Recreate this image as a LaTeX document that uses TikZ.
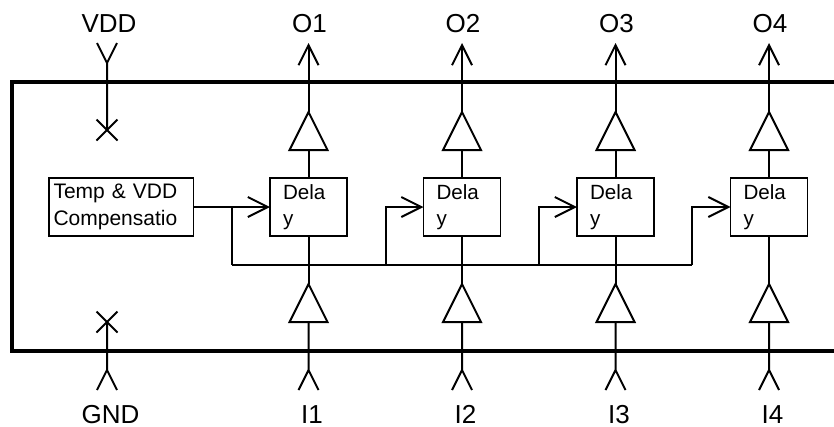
\documentclass[tikz,border=0pt]{standalone}
\usepackage{fontspec}
\setmainfont{Liberation Sans}
\usetikzlibrary{positioning}
\usetikzlibrary{shapes.misc}
\usetikzlibrary{shapes.geometric}
\usetikzlibrary{arrows.meta}
\tikzset{
    wire/.style = {line width=2pt},
    outwire/.style = {wire,-{Straight Barb[length=20pt,width=20pt,line width=2pt]}},
    chipedge/.style = {line width=4.6pt,line join=miter},
    buffer/.style = {isosceles triangle,isosceles triangle stretches,shape border rotate=90,draw,line width=2pt,minimum width=38pt,minimum height=38pt,inner sep=0pt,outer sep=0pt,anchor=apex},
    nocon/.style = {cross out,draw,line width=2pt,minimum size=21pt,inner sep=0pt,outer sep=0pt},
    delaybox/.style = {rectangle,draw,line width=1.8pt,minimum width=77pt,minimum height=58pt,inner xsep=13pt,inner ysep=0pt,outer sep=0pt,text width=51pt,align=left,font=\fontsize{20.6}{26.5}\selectfont},
    compbox/.style = {rectangle,draw,line width=1.8pt,minimum width=144.5pt,minimum height=58pt,inner xsep=4.5pt,inner ysep=0pt,outer sep=0pt,text width=135.5pt,align=left,font=\fontsize{21}{26.5}\selectfont},
    pinlabel/.style = {inner sep=0pt,font=\fontsize{26}{26}\selectfont}}

\begin{document}
\begin{tikzpicture}[x=1pt,y=-1pt]
    \useasboundingbox (0,0) rectangle (834,426);
    \draw[chipedge] (834,82) -- (12,82) -- (12,351) -- (834,351);

    % supply pins
    \node[pinlabel] (vddlabel) at (109,24) {VDD};
    \node[pinlabel] (gndlabel) at (110.5,414.5) {GND};
    \coordinate (vddpin) at (107,63);
    \coordinate (gndpin) at (107,370);
    \node[nocon] (vddx) at (107,130) {};
    \node[nocon] (gndx) at (107,322) {};
    \draw[wire] (vddpin) -- (vddx.center) (vddpin) -- +(-10,-20) (vddpin) -- +(10,-20);
    \draw[wire] (gndpin) -- (gndx.center) (gndpin) -- +(-10,20) (gndpin) -- +(10,20);

    \node[compbox] (comp) at (121.25,207) {Temp \& VDD\\Compensatio};

    % one column per channel
    \foreach \n/\x/\b in {1/308.5/232,2/462/386,3/615.5/539,4/769/692} {
        \node[delaybox] (delay\n) at (\x,207) {Dela\\y};
        \node[buffer] (outbuf\n) at (\x,112) {};
        \node[buffer] (inbuf\n) at (\x,284) {};
        \coordinate (outtip\n) at (\x,43);
        \coordinate (inpin\n) at (\x,370);
        \coordinate (bus\n) at (\b,264.7);
        \node[pinlabel] (olabel\n) at (\x+1,24) {O\n};
        \node[pinlabel] (ilabel\n) at (\x+3.5,414.5) {I\n};
        \draw[outwire] (outbuf\n.apex) -- (outtip\n);
        \draw[wire] (delay\n.north) -- (outbuf\n.lower side);
        \draw[wire] (inbuf\n.apex) -- (delay\n.south);
        \draw[wire] (inpin\n) -- (inbuf\n.lower side) (inpin\n) -- +(-10,20) (inpin\n) -- +(10,20);
    }

    \draw[wire] (bus1) -- (bus4);
    \draw[outwire] (comp.east) -- (delay1.west);
    \draw[wire] (bus1) |- (comp.east -| bus1);
    \foreach \n in {2,3,4} {
        \draw[outwire] (bus\n) |- (delay\n.west);
    }
\end{tikzpicture}
\end{document}
